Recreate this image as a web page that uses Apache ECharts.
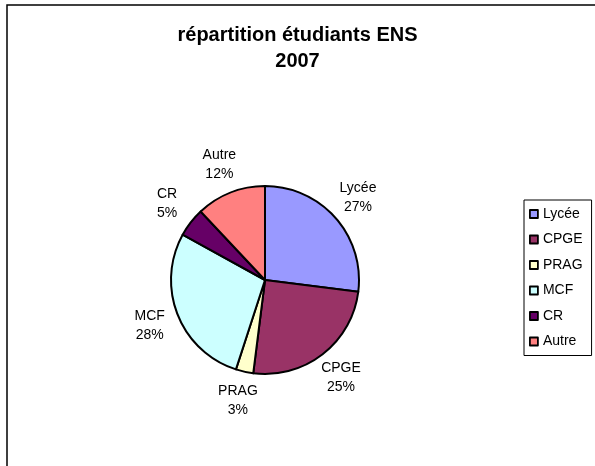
<!DOCTYPE html>
<html>
<head>
<meta charset="utf-8">
<script src="https://cdn.jsdelivr.net/npm/echarts@6/dist/echarts.min.js"></script>
<style>
html,body{margin:0;padding:0;background:#fff;}
#c{width:595px;height:466px;}
</style>
</head>
<body>
<div id="c"></div>
<script>
var categories = ['Lycée', 'CPGE', 'PRAG', 'MCF', 'CR', 'Autre'];
var values = [27, 25, 3, 28, 5, 12];
var colors = ['#9999FF', '#993366', '#FFFFCC', '#CCFFFF', '#660066', '#FF8080'];
var titleText = 'répartition étudiants ENS\n2007';

var FONT = '"Liberation Sans", Arial, sans-serif';
var CX = 265, CY = 280, R = 94, LABEL_OFFSET = 30;

var total = values.reduce(function (a, b) { return a + b; }, 0);
var chart = echarts.init(document.getElementById('c'), null, {renderer: 'canvas'});

var option = {
  backgroundColor: '#ffffff',
  animation: false,
  color: colors,
  graphic: [{
    type: 'rect',
    shape: {x: 7, y: 5, width: 800, height: 700},
    style: {fill: 'none', stroke: '#000', lineWidth: 1.5},
    silent: true,
    z: -10
  }],
  title: {
    text: titleText,
    left: 'center',
    top: 22,
    padding: 0,
    itemGap: 0,
    textStyle: {fontFamily: FONT, fontSize: 20, fontWeight: 'bold', color: '#000', lineHeight: 26}
  },
  legend: {
    orient: 'vertical',
    left: 524,
    top: 200,
    padding: [6, 9, 6, 5],
    itemWidth: 8,
    itemHeight: 8,
    itemGap: 9.5,
    icon: 'rect',
    borderColor: '#000',
    borderWidth: 1,
    borderRadius: 0,
    data: categories,
    itemStyle: {borderColor: '#000', borderWidth: 1.8},
    textStyle: {fontFamily: FONT, fontSize: 14, color: '#000', lineHeight: 16}
  },
  series: [{
    type: 'pie',
    center: [CX, CY],
    radius: [0, R],
    startAngle: 90,
    clockwise: true,
    avoidLabelOverlap: false,
    itemStyle: {borderColor: '#000', borderWidth: 2},
    label: {
      show: true,
      position: 'outside',
      fontFamily: FONT,
      fontSize: 14,
      lineHeight: 19,
      color: '#000',
      formatter: function (p) { return p.name + '\n' + Math.round(p.percent) + '%'; }
    },
    labelLine: {show: false},
    labelLayout: function (params) {
      var idx = params.dataIndex;
      var before = 0;
      for (var i = 0; i < idx; i++) before += values[i];
      var frac = (before + values[idx] / 2) / total;
      var theta = frac * Math.PI * 2;
      var d = R + LABEL_OFFSET;
      return {
        x: CX + d * Math.sin(theta),
        y: CY - d * Math.cos(theta),
        align: 'center',
        verticalAlign: 'middle'
      };
    },
    emphasis: {disabled: true},
    data: categories.map(function (c, i) { return {name: c, value: values[i]}; })
  }]
};
chart.setOption(option);
</script>
</body>
</html>
